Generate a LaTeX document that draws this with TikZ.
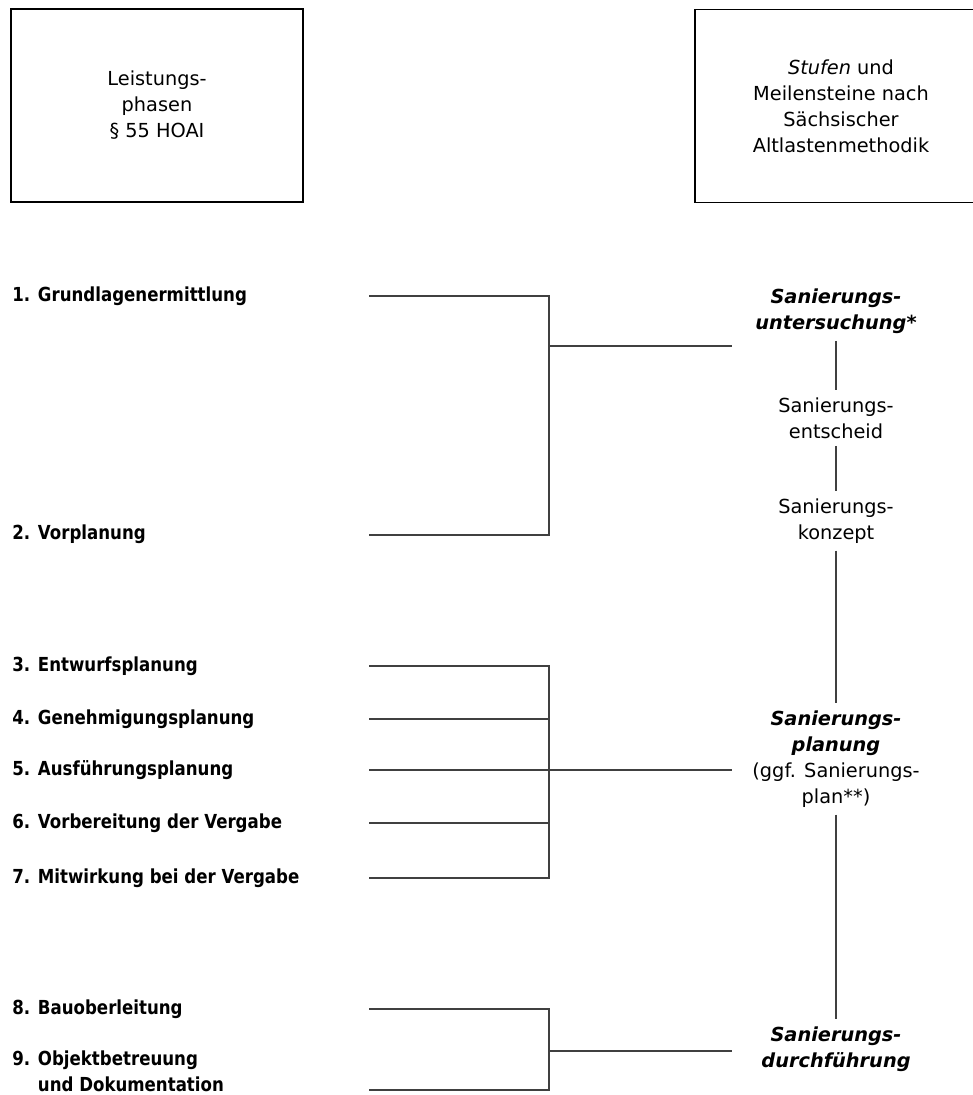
\documentclass[tikz,border=0pt]{standalone}
\usepackage{fontspec}
\setmainfont{DejaVu Sans}
\newfontfamily\phasefont{DejaVu Sans}[FakeStretch=0.86]
\usepackage{tikz}
\usetikzlibrary{positioning}

\begin{document}
\begin{tikzpicture}[x=0.02cm,y=-0.02cm,
  every node/.style={font=\fontsize{11}{14.8}\selectfont,align=center},
  headbox/.style={draw,line width=1.1pt,minimum height=3.86cm},
  phase/.style={anchor=west,align=left,inner sep=0pt,font=\phasefont\bfseries\fontsize{11}{14.8}\selectfont},
  stage/.style={inner sep=4pt},
  conn/.style={draw=black!75,line width=0.75pt}]
\useasboundingbox (0,0) rectangle (973,1095);

% header boxes
\node[headbox,minimum width=5.84cm] (hoai) at (157,105.5) {Leistungs-\\phasen\\\S\ 55 HOAI};
\node[headbox,minimum width=5.84cm] (sam) at (841,106) {\textit{Stufen} und\\Meilensteine nach\\Sächsischer\\Altlastenmethodik};

% Leistungsphasen
\node[phase] (l1) at (12,296) {1. Grundlagenermittlung};
\node[phase] (l2) at (12,534) {2. Vorplanung};
\node[phase] (l3) at (12,666) {3. Entwurfsplanung};
\node[phase] (l4) at (12,719) {4. Genehmigungsplanung};
\node[phase] (l5) at (12,770) {5. Ausführungsplanung};
\node[phase] (l6) at (12,823) {6. Vorbereitung der Vergabe};
\node[phase] (l7) at (12,878) {7. Mitwirkung bei der Vergabe};
\node[phase] (l8) at (12,1009) {8. Bauoberleitung};
\node[phase] (l9) at (12,1071) {9. Objektbetreuung\\\phantom{9. }und Dokumentation};

% Stufen
\node[stage] (t1) at (836,311) {\bfseries\itshape Sanierungs-\\\bfseries\itshape untersuchung*};
\node[stage] (t2) at (836,418) {Sanierungs-\\entscheid};
\node[stage] (t3) at (836,521) {Sanierungs-\\konzept};
\node[stage] (t4) at (836,759) {\bfseries\itshape Sanierungs-\\\bfseries\itshape planung\\(ggf. Sanierungs-\\plan**)};
\node[stage] (t5) at (836,1049) {\bfseries\itshape Sanierungs-\\\bfseries\itshape durchführung};

% line ends
\coordinate (a1) at (369,296);
\coordinate (a2) at (369,535);
\coordinate (a3) at (369,666);
\coordinate (a4) at (369,719);
\coordinate (a5) at (369,770);
\coordinate (a6) at (369,823);
\coordinate (a7) at (369,878);
\coordinate (a8) at (369,1009);
\coordinate (a9) at (369,1090);
\coordinate (j1) at (549,346);
\coordinate (j2) at (549,770);
\coordinate (j3) at (549,1051);
\coordinate (e1) at (732,346);
\coordinate (e2) at (732,770);
\coordinate (e3) at (732,1051);

\draw[conn] (a1) -| (j1);
\draw[conn] (a2) -| (j1);
\draw[conn] (j1) -- (e1);

\draw[conn] (a3) -| (j2);
\draw[conn] (a7) -| (j2);
\draw[conn] (a4) -- (a4 -| j2);
\draw[conn] (a6) -- (a6 -| j2);
\draw[conn] (a5) -- (e2);

\draw[conn] (a8) -| (j3);
\draw[conn] (a9) -| (j3);
\draw[conn] (j3) -- (e3);

\draw[conn] (t1) -- (t2);
\draw[conn] (t2) -- (t3);
\draw[conn] (t3) -- (t4);
\draw[conn] (t4) -- (t5);

\end{tikzpicture}
\end{document}
